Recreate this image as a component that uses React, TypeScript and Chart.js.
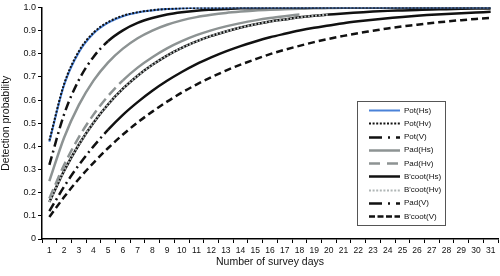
import React, { useEffect, useRef } from "react";
import { Chart, registerables } from "chart.js";
Chart.register(...registerables);

const days = ["1","2","3","4","5","6","7","8","9","10","11","12","13","14","15","16","17","18","19","20","21","22","23","24","25","26","27","28","29","30","31"];

const potHs = [0.42,0.664,0.805,0.887,0.934,0.962,0.978,0.987,0.993,0.996,0.998,0.999,0.999,1,1,1,1,1,1,1,1,1,1,1,1,1,1,1,1,1,1];
const potHv = [0.425,0.669,0.81,0.891,0.937,0.964,0.979,0.988,0.993,0.996,0.998,0.999,0.999,1,1,1,1,1,1,1,1,1,1,1,1,1,1,1,1,1,1];
const potV = [0.32,0.538,0.686,0.786,0.855,0.901,0.933,0.954,0.969,0.979,0.986,0.99,0.993,0.996,0.997,0.998,0.999,0.999,0.999,1,1,1,1,1,1,1,1,1,1,1,1];
const padHs = [0.25,0.4375,0.578,0.684,0.763,0.822,0.867,0.9,0.925,0.944,0.958,0.968,0.976,0.982,0.987,0.99,0.992,0.994,0.996,0.997,0.998,0.998,0.999,0.999,0.999,0.999,1,1,1,1,1];
const padHv = [0.175,0.319,0.439,0.537,0.618,0.685,0.74,0.785,0.823,0.854,0.88,0.901,0.918,0.932,0.944,0.954,0.962,0.969];
const bcootHs = [0.16,0.294,0.407,0.502,0.582,0.649,0.705,0.752,0.792,0.825,0.853,0.877,0.896,0.913,0.927,0.939,0.948,0.957,0.964,0.969,0.974,0.978,0.982,0.985,0.987,0.989,0.991,0.992,0.994,0.995,0.9955];
const bcootHv = [0.16,0.294,0.407,0.502,0.582,0.649,0.705,0.752,0.792,0.825,0.853,0.877,0.896,0.913,0.927,0.939,0.948,0.957,0.964,0.969];
const padV = [0.12,0.226,0.319,0.4,0.472,0.536,0.591,0.64,0.683,0.721,0.755,0.784,0.81,0.833,0.853,0.871,0.886,0.9,0.912,0.922,0.932,0.94,0.947,0.953,0.959,0.964,0.968,0.972,0.975,0.978,0.981];
const bcootV = [0.095,0.181,0.259,0.329,0.393,0.451,0.503,0.55,0.593,0.632,0.667,0.698,0.727,0.753,0.776,0.798,0.817,0.834,0.85,0.864,0.877,0.889,0.899,0.909,0.918,0.925,0.933,0.939,0.945,0.95,0.955];

const seriesNames = ["Pot(Hs)","Pot(Hv)","Pot(V)","Pad(Hs)","Pad(Hv)","B'coot(Hs)","B'coot(Hv)","Pad(V)","B'coot(V)"];

const BLUE = "#4a82d8";
const GRAY = "#8d9393";
const LGRAY = "#b0b6b6";
const BLACK = "#111111";
const DASHDOT = [9, 4, 2, 4];
const DOT = [2, 1.6];
const LONGDASH = [10, 5];
const DASH = [7, 4];

const earlyDash = (pattern: number[], n: number) => ({
  borderDash: (ctx: any) => (ctx.p0DataIndex < n ? pattern : undefined),
});

const legendPlugin = {
  id: "boxLegend",
  afterDatasetsDraw(chart: any) {
    const ctx = chart.ctx;
    const x0 = 357, y0 = 101, w = 88, h = 124;
    ctx.save();
    ctx.fillStyle = "#ffffff";
    ctx.fillRect(x0, y0, w, h);
    ctx.strokeStyle = "#555";
    ctx.lineWidth = 1;
    ctx.strokeRect(x0 + 0.5, y0 + 0.5, w, h);
    const styles = [
      { c: BLUE, d: [], lw: 2 },
      { c: BLACK, d: DOT, lw: 2 },
      { c: BLACK, d: [13, 6, 2, 6], lw: 2.5 },
      { c: GRAY, d: [], lw: 2.5 },
      { c: GRAY, d: [11, 7], lw: 2.5 },
      { c: BLACK, d: [], lw: 2.5 },
      { c: LGRAY, d: DOT, lw: 2 },
      { c: BLACK, d: [13, 6, 2, 6], lw: 2.5 },
      { c: BLACK, d: [6, 2.5], lw: 2.5 },
    ];
    ctx.font = "8px 'Liberation Sans', Arial, sans-serif";
    ctx.textBaseline = "middle";
    ctx.fillStyle = "#111";
    seriesNames.forEach((name, i) => {
      const y = 110 + i * 13.25;
      const s = styles[i];
      ctx.beginPath();
      ctx.setLineDash(s.d);
      ctx.strokeStyle = s.c;
      ctx.lineWidth = s.lw;
      ctx.moveTo(369, Math.round(y) + 0.5);
      ctx.lineTo(400, Math.round(y) + 0.5);
      ctx.stroke();
      ctx.setLineDash([]);
      ctx.fillText(name, 404, y + 0.5);
    });
    ctx.restore();
  },
};

export default function App() {
  const ref = useRef<HTMLCanvasElement | null>(null);
  useEffect(() => {
    document.body.style.margin = "0";
    if (!ref.current) return;
    const base = { pointRadius: 0, pointHoverRadius: 0, fill: false, cubicInterpolationMode: "monotone" as const, borderCapStyle: "butt" as const };
    const chart = new Chart(ref.current, {
      type: "line",
      data: {
        labels: days,
        datasets: [
          { ...base, label: seriesNames[0], data: potHs, borderColor: BLUE, borderWidth: 2, order: 1 },
          { ...base, label: seriesNames[1], data: potHv, borderColor: BLACK, borderWidth: 2, borderDash: DOT, order: 0 },
          { ...base, label: seriesNames[2], data: potV, borderColor: BLACK, borderWidth: 2.5, borderDash: [], segment: earlyDash(DASHDOT, 4), order: 1 },
          { ...base, label: seriesNames[3], data: padHs, borderColor: GRAY, borderWidth: 2.5, order: 1 },
          { ...base, label: seriesNames[4], data: padHv, borderColor: GRAY, borderWidth: 2.5, borderDash: [], segment: earlyDash(LONGDASH, 5), order: 1 },
          { ...base, label: seriesNames[5], data: bcootHs, borderColor: BLACK, borderWidth: 2.5, order: 1 },
          { ...base, label: seriesNames[6], data: bcootHv, borderColor: LGRAY, borderWidth: 2, borderDash: DOT, order: 0 },
          { ...base, label: seriesNames[7], data: padV, borderColor: BLACK, borderWidth: 2.5, borderDash: [], segment: earlyDash(DASHDOT, 4), order: 1 },
          { ...base, label: seriesNames[8], data: bcootV, borderColor: BLACK, borderWidth: 2.5, borderDash: DASH, order: 1 },
        ],
      },
      options: {
        animation: false,
        responsive: false,
        events: [],
        layout: { padding: { top: 5, right: 2, left: 0, bottom: 0 } },
        plugins: { legend: { display: false }, tooltip: { enabled: false } },
        scales: {
          x: {
            type: "category",
            offset: true,
            grid: { offset: true, drawOnChartArea: false, drawTicks: true, tickLength: 4, color: "#000", lineWidth: 1 },
            border: { display: true, color: "#000", width: 1.5 },
            ticks: { autoSkip: false, maxRotation: 0, padding: 3, color: "#111", font: { size: 8.5, family: "'Liberation Sans', Arial, sans-serif" } },
            title: { display: true, text: "Number of survey days", color: "#111", padding: { top: 0, bottom: 8 }, font: { size: 10.5, family: "'Liberation Sans', Arial, sans-serif" } },
            afterFit: (s: any) => { s.height = 37; },
          },
          y: {
            min: 0,
            max: 1,
            grid: { drawOnChartArea: false, drawTicks: true, tickLength: 4, color: "#000", lineWidth: 1 },
            border: { display: true, color: "#000", width: 1.5 },
            ticks: {
              stepSize: 0.1,
              padding: 2,
              color: "#111",
              font: { size: 9, family: "'Liberation Sans', Arial, sans-serif" },
              callback: (v: any) => (Number(v) === 0 ? "0" : Number(v).toFixed(1)),
            },
            title: { display: true, text: "Detection probability", color: "#111", padding: { top: 0, bottom: 0 }, font: { size: 10.5, family: "'Liberation Sans', Arial, sans-serif" } },
            afterFit: (s: any) => { s.width = 42; },
          },
        },
      },
      plugins: [legendPlugin],
    });
    return () => chart.destroy();
  }, []);
  return (
    <div style={{ width: 500, height: 276 }}>
      <canvas ref={ref} width={500} height={276} style={{ width: 500, height: 276, display: "block" }} />
    </div>
  );
}
